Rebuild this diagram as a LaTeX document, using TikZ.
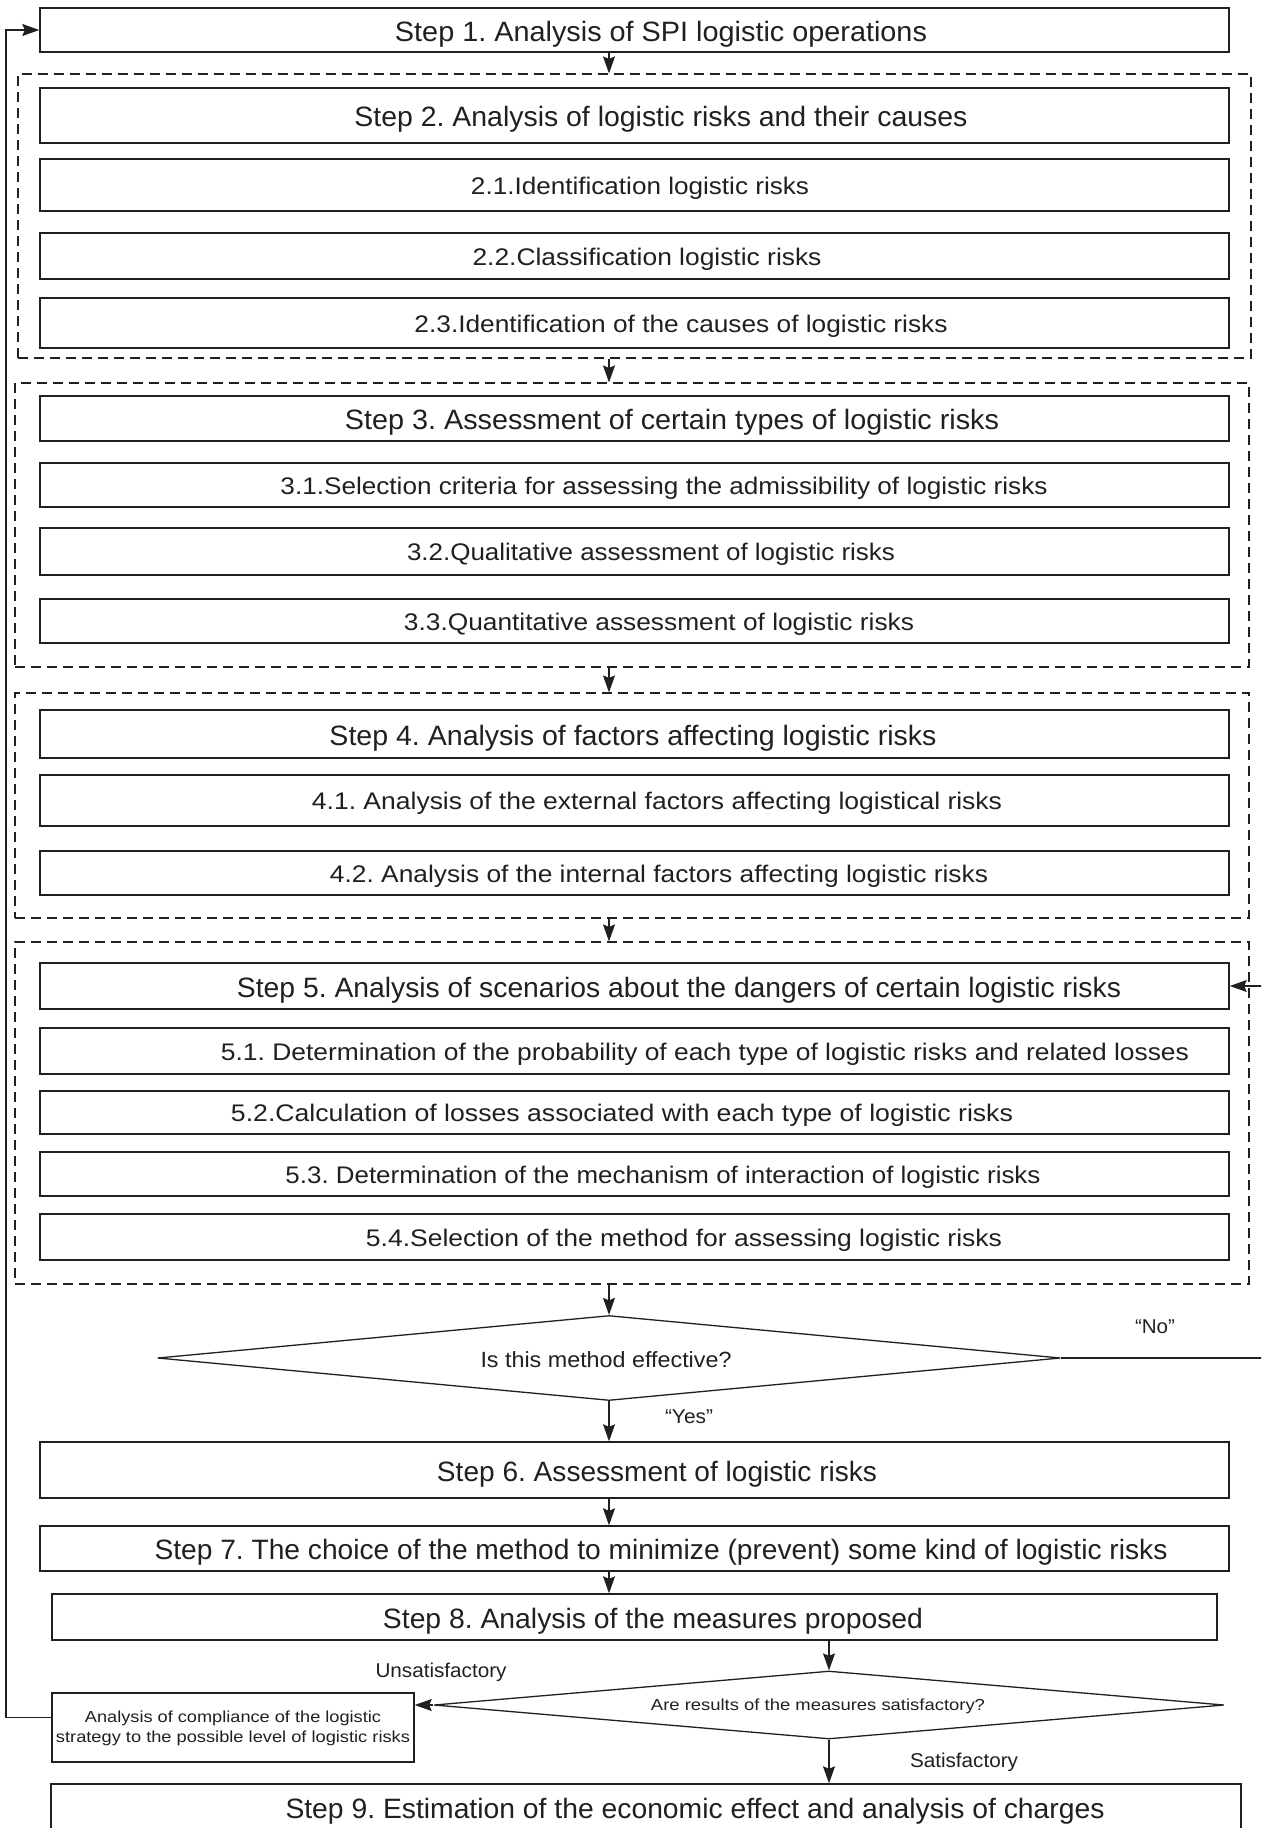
\documentclass[tikz,border=0pt]{standalone}
\usepackage{fontspec}
\setmainfont{Liberation Sans}
\usepackage{graphicx}
\usetikzlibrary{shapes.geometric,arrows.meta}
\definecolor{ink}{RGB}{35,31,32}
\newcommand\wtext[2]{\resizebox{#1pt}{\height}{#2}}
\frenchspacing
\begin{document}
\begin{tikzpicture}[x=1pt,y=-1pt,
 every node/.style={text=ink},
 box/.style={draw=ink, line width=1.4pt, inner sep=0pt},
 wbox/.style={box, minimum width=1189pt},
 grp/.style={draw=ink, line width=1.2pt, dash pattern=on 10pt off 6pt, inner sep=0pt},
 arr/.style={draw=ink, line width=1.2pt, -{Stealth[length=17pt,width=12pt,inset=2.5pt]}},
 ln/.style={draw=ink, line width=1.2pt},
 stept/.style={font=\fontsize{28}{30}\selectfont, inner sep=0pt, yshift=-4pt},
 subt/.style={font=\fontsize{24}{26}\selectfont, inner sep=0pt, yshift=-3pt},
 lab/.style={font=\fontsize{20}{24}\selectfont, inner sep=0pt},
 dtxt/.style={font=\fontsize{22}{24}\selectfont, inner sep=0pt, yshift=-2pt},
 small/.style={font=\fontsize{16}{20}\selectfont, inner sep=0pt, align=center},
 dia/.style={diamond, draw=ink, line width=1.3pt, inner sep=0pt},
]
\clip (0,0) rectangle (1261,1828);
\fill[white] (0,0) rectangle (1261,1828);

% groups
\node[grp, minimum width=1233pt, minimum height=284pt] (g2) at (634.5,216) {};
\node[grp, minimum width=1234pt, minimum height=284pt] (g3) at (632,525) {};
\node[grp, minimum width=1234pt, minimum height=225pt] (g4) at (632,805.5) {};
\node[grp, minimum width=1234pt, minimum height=342pt] (g5) at (632,1113) {};

% boxes
\node[wbox, minimum height=44pt] (s1) at (634.5,30) {};
\node[wbox, minimum height=55pt] (s2) at (634.5,115.5) {};
\node[wbox, minimum height=52pt] (s21) at (634.5,185) {};
\node[wbox, minimum height=46pt] (s22) at (634.5,256) {};
\node[wbox, minimum height=50pt] (s23) at (634.5,323) {};
\node[wbox, minimum height=45pt] (s3) at (634.5,418.5) {};
\node[wbox, minimum height=44pt] (s31) at (634.5,485) {};
\node[wbox, minimum height=47pt] (s32) at (634.5,551.5) {};
\node[wbox, minimum height=44pt] (s33) at (634.5,621) {};
\node[wbox, minimum height=48pt] (s4) at (634.5,734) {};
\node[wbox, minimum height=51pt] (s41) at (634.5,800.5) {};
\node[wbox, minimum height=44pt] (s42) at (634.5,873) {};
\node[wbox, minimum height=46pt] (s5) at (634.5,986) {};
\node[wbox, minimum height=46pt] (s51) at (634.5,1051) {};
\node[wbox, minimum height=43pt] (s52) at (634.5,1112.5) {};
\node[wbox, minimum height=44pt] (s53) at (634.5,1174) {};
\node[wbox, minimum height=46pt] (s54) at (634.5,1237) {};
\node[wbox, minimum height=56pt] (s6) at (634.5,1470) {};
\node[wbox, minimum height=45pt] (s7) at (634.5,1548.5) {};
\node[box, minimum width=1165pt, minimum height=46pt] (s8) at (634.5,1617) {};
\node[box, minimum width=1190pt, minimum height=88pt] (s9) at (646,1828) {};
\node[box, minimum width=362pt, minimum height=69pt] (a) at (233,1727.5) {};

% diamonds
\node[dia, minimum width=903pt, minimum height=85pt] (d1) at (609,1358) {};
\node[dia, minimum width=790pt, minimum height=68pt] (d2) at (829,1705) {};

% texts
\node[stept] (t1) at (661,30) {\wtext{532}{Step 1. Analysis of SPI logistic operations}};
\node[stept] (t2) at (661,115.5) {\wtext{613}{Step 2. Analysis of logistic risks and their causes}};
\node[subt] (t21) at (640,185) {\wtext{338}{2.1.Identification logistic risks}};
\node[subt] (t22) at (647,256) {\wtext{349}{2.2.Classification logistic risks}};
\node[subt] (t23) at (681,323) {\wtext{533}{2.3.Identification of the causes of logistic risks}};
\node[stept] (t3) at (672,418.5) {\wtext{654}{Step 3. Assessment of certain types of logistic risks}};
\node[subt] (t31) at (664,485) {\wtext{767}{3.1.Selection criteria for assessing the admissibility of logistic risks}};
\node[subt] (t32) at (651,551.5) {\wtext{488}{3.2.Qualitative assessment of logistic risks}};
\node[subt] (t33) at (659,621) {\wtext{510}{3.3.Quantitative assessment of logistic risks}};
\node[stept] (t4) at (633,734) {\wtext{607}{Step 4. Analysis of factors affecting logistic risks}};
\node[subt] (t41) at (657,800.5) {\wtext{690}{4.1. Analysis of the external factors affecting logistical risks}};
\node[subt] (t42) at (659,873) {\wtext{658}{4.2. Analysis of the internal factors affecting logistic risks}};
\node[stept] (t5) at (679,986) {\wtext{884}{Step 5. Analysis of scenarios about the dangers of certain logistic risks}};
\node[subt] (t51) at (705,1051) {\wtext{968}{5.1. Determination of the probability of each type of logistic risks and related losses}};
\node[subt] (t52) at (622,1112.5) {\wtext{782}{5.2.Calculation of losses associated with each type of logistic risks}};
\node[subt] (t53) at (663,1174) {\wtext{755}{5.3. Determination of the mechanism of interaction of logistic risks}};
\node[subt] (t54) at (684,1237) {\wtext{636}{5.4.Selection of the method for assessing logistic risks}};
\node[dtxt] (td1) at (606,1358) {\wtext{251}{Is this method effective?}};
\node[stept] (t6) at (657,1470) {\wtext{440}{Step 6. Assessment of logistic risks}};
\node[stept] (t7) at (661,1548.5) {\wtext{1013}{Step 7. The choice of the method to minimize (prevent) some kind of logistic risks}};
\node[stept] (t8) at (653,1617) {\wtext{540}{Step 8. Analysis of the measures proposed}};
\node[small] (td2) at (818,1706) {\wtext{334}{Are results of the measures satisfactory?}};
\node[small] (ta) at (233,1728) {\wtext{296}{Analysis of compliance of the logistic}\\\wtext{354}{strategy to the possible level of logistic risks}};
\node[stept] (t9) at (695,1807) {\wtext{819}{Step 9. Estimation of the economic effect and analysis of charges}};

% labels
\node[lab] (lno) at (1155,1327) {\wtext{40}{“No”}};
\node[lab] (lyes) at (689,1417) {\wtext{48}{“Yes”}};
\node[lab] (lun) at (441,1672) {\wtext{131}{Unsatisfactory}};
\node[lab] (lsat) at (964,1762) {\wtext{108}{Satisfactory}};

% coordinates
\coordinate (ax) at (609,0);
\coordinate (lx) at (6,0);
\coordinate (eR1) at (1262,1358);
\coordinate (eR2) at (1262,986);

% connectors
\draw[arr] (s1.south -| ax) -- (g2.north -| ax);
\draw[arr] (g2.south -| ax) -- (g3.north -| ax);
\draw[arr] (g3.south -| ax) -- (g4.north -| ax);
\draw[arr] (g4.south -| ax) -- (g5.north -| ax);
\draw[arr] (g5.south -| d1.north) -- (d1.north);
\draw[arr] (d1.south) -- (d1.south |- s6.north);
\draw[arr] (s6.south -| ax) -- (s7.north -| ax);
\draw[arr] (s7.south -| ax) -- (s8.north -| ax);
\draw[arr] (s8.south -| d2.north) -- (d2.north);
\draw[arr] (d2.west) -- (d2.west -| a.east);
\draw[arr] (d2.south) -- (d2.south |- s9.north);
\draw[ln] (d1.east) -- (eR1);
\draw[arr] (eR2) -- (s5.east);
\draw[arr] ([yshift=10pt]a.west) -- ([yshift=10pt]a.west -| lx) |- (s1.west);
\end{tikzpicture}
\end{document}
